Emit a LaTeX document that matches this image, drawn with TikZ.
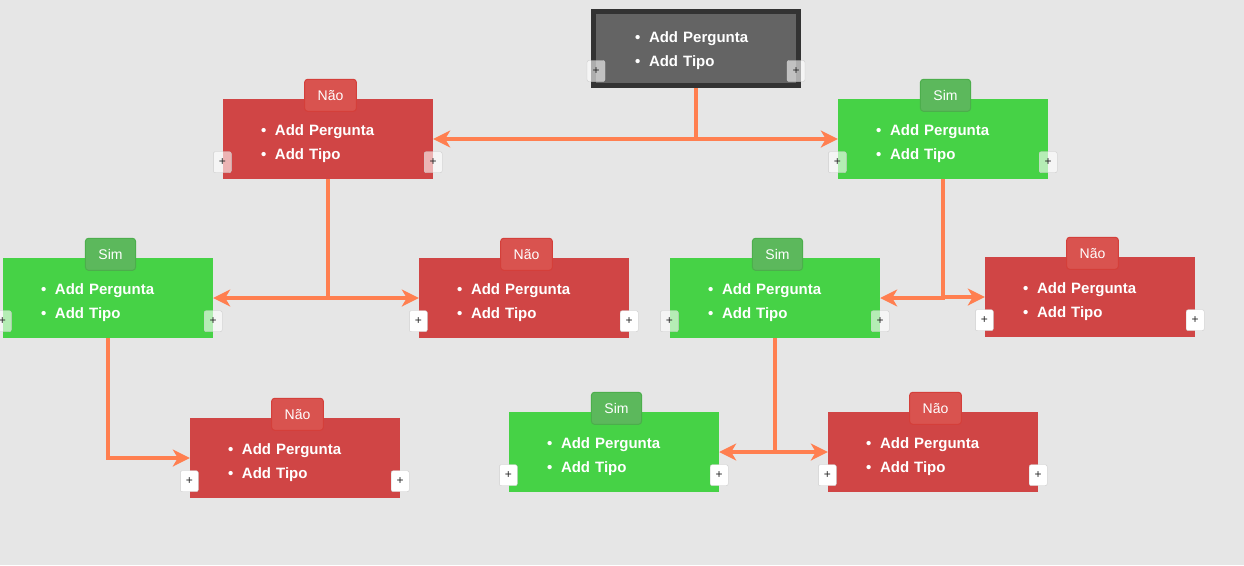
\documentclass[tikz,border=0pt]{standalone}
\usepackage{fontspec}
\setmainfont{Liberation Sans}
\usetikzlibrary{arrows.meta}

\definecolor{fundo}{HTML}{E6E6E6}
\definecolor{raiz}{HTML}{646464}
\definecolor{raizborda}{HTML}{333333}
\definecolor{nao}{HTML}{D04545}
\definecolor{naotag}{HTML}{D9534F}
\definecolor{naoborda}{HTML}{D43F3A}
\definecolor{sim}{HTML}{46D246}
\definecolor{simtag}{HTML}{5CB85C}
\definecolor{simborda}{HTML}{4CAE4C}
\definecolor{seta}{HTML}{FF7F50}

\newcommand{\itens}[1][21pt]{\rule{0pt}{#1}\makebox[14pt][l]{\textbullet}Add Pergunta\\\makebox[14pt][l]{\textbullet}Add Tipo}

\tikzset{
	caixa/.style={minimum width=210pt,minimum height=80pt,text width=134pt,align=left,inner sep=0pt,text=white,font=\fontsize{15}{24}\selectfont\bfseries},
	tag/.style={rounded corners=3pt,minimum height=32pt,inner xsep=13pt,inner ysep=0pt,line width=1pt,text=white,font=\fontsize{14}{14}\selectfont},
	botao/.style={draw=black!20,fill=white,rounded corners=2pt,minimum width=18pt,minimum height=21pt,inner sep=0pt,text=black!85,font=\fontsize{12}{12}\selectfont},
	botaopai/.style={botao,fill opacity=0.6,text opacity=1},
	link/.style={draw=seta,line width=4pt,-{Stealth[length=17pt,width=17pt,inset=5pt]}}
}

\begin{document}
\begin{tikzpicture}[x=1pt,y=-1pt]
	
	\fill[fundo] (0,0) rectangle (1244,565);
	\useasboundingbox (0,0) rectangle (1244,565);
	
	\node[caixa,fill=raiz,draw=raizborda,line width=5pt,minimum width=205pt,minimum height=74pt,text width=122pt] (root) at (696,48.5) {\itens[15pt]};
	
	\foreach \nome/\x/\y in {n1/328/139,n2/524/298,n3/1090/297,n4/295/458,n5/933/452}
	{
		\node[caixa,fill=nao] (\nome) at (\x,\y) {\itens};
		\node[tag,fill=naotag,draw=naoborda] (\nome-tag) at ([xshift=2.5pt,yshift=3.5pt]\nome.north) {Não};
	}
	\foreach \nome/\x/\y in {s1/943/139,s2/108/298,s3/775/298,s4/614/452}
	{
		\node[caixa,fill=sim] (\nome) at (\x,\y) {\itens};
		\node[tag,fill=simtag,draw=simborda] (\nome-tag) at ([xshift=2.5pt,yshift=3.5pt]\nome.north) {Sim};
	}
	
	\draw[link] (root.south) |- (n1.east);
	\draw[link] (root.south) |- (s1.west);
	\draw[link] (n1.south) |- (s2.east);
	\draw[link] (n1.south) |- (n2.west);
	\draw[link] (s1.south) |- (s3.east);
	\draw[link] (s1.south) |- (n3.west);
	\draw[link] (s2.south) |- (n4.west);
	\draw[link] (s3.south) |- (s4.east);
	\draw[link] (s3.south) |- (n5.west);
	
	\node[botaopai] (root-l) at ([xshift=5pt,yshift=17pt]root.south west) {+};
	\node[botaopai] (root-r) at ([xshift=-5pt,yshift=17pt]root.south east) {+};
	\foreach \nome in {n1,s1,s2,s3}
	{
		\node[botaopai] (\nome-l) at ([xshift=-0.5pt,yshift=17pt]\nome.south west) {+};
		\node[botaopai] (\nome-r) at ([yshift=17pt]\nome.south east) {+};
	}
	\foreach \nome in {n2,n3,n4,n5,s4}
	{
		\node[botao] (\nome-l) at ([xshift=-0.5pt,yshift=17pt]\nome.south west) {+};
		\node[botao] (\nome-r) at ([yshift=17pt]\nome.south east) {+};
	}
\end{tikzpicture}
\end{document}
